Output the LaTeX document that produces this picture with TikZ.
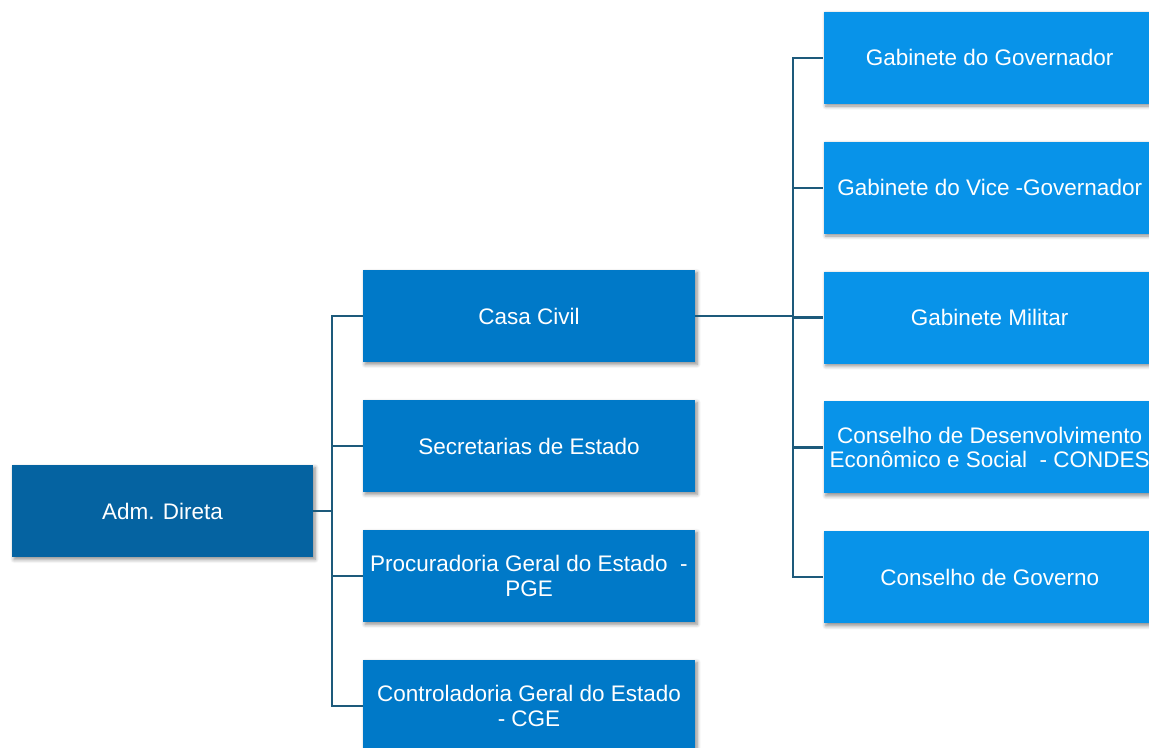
\documentclass[tikz,border=0pt]{standalone}
\usepackage{fontspec}
\setmainfont{Liberation Sans}
\usetikzlibrary{positioning,shadows.blur}
\definecolor{admblue}{HTML}{0563A1}
\definecolor{unitblue}{HTML}{0079C8}
\definecolor{subblue}{HTML}{0893E9}
\definecolor{linkblue}{HTML}{1D5A7B}

\begin{document}
\begin{tikzpicture}[font=\fontsize{12.8}{13.8}\selectfont, node distance=7.45mm and 25.6mm,
  box/.style={rectangle, text=white, minimum width=66.4mm, minimum height=18.4mm, align=center, inner sep=1pt,
    blur shadow={shadow xshift=1.2pt, shadow yshift=-1.4pt, shadow blur steps=6, shadow opacity=45}},
  root/.style={box, fill=admblue, minimum width=60.2mm},
  unit/.style={box, fill=unitblue},
  sub/.style={box, fill=subblue},
  link/.style={draw=linkblue, line width=1.2pt}]
\useasboundingbox (0,0) rectangle (22.98,-14.94);
\clip (0,0) rectangle (22.98,-14.94);
\node[root] (adm) at (3.25,-10.22) {Adm. Direta};
\node[unit] (casa) at (10.58,-6.32) {Casa Civil};
\node[unit, below=of casa] (sec) {Secretarias de Estado};
\node[unit, below=of sec] (pge) {Procuradoria Geral do Estado\ \ -\\PGE};
\node[unit, below=of pge] (cge) {Controladoria Geral do Estado\\- CGE};
\node[sub, right=of casa, yshift=-0.3mm] (gmil) {Gabinete Militar};
\node[sub, above=of gmil] (gvice) {Gabinete do Vice -Governador};
\node[sub, above=of gvice] (ggov) {Gabinete do Governador};
\node[sub, below=of gmil] (condes) {Conselho de Desenvolvimento\\Econômico e Social\ \ - CONDES};
\node[sub, below=of condes] (cgov) {Conselho de Governo};
\draw[link] (adm.east) -- ++(3.8mm,0) |- (casa.west); \draw[link] (adm.east) -- ++(3.8mm,0) |- (sec.west);
\draw[link] (adm.east) -- ++(3.8mm,0) |- (pge.west); \draw[link] (adm.east) -- ++(3.8mm,0) |- (cge.west);
\draw[link] (casa.east) -- ++(19.6mm,0) |- (ggov.west); \draw[link] (casa.east) -- ++(19.6mm,0) |- (gvice.west);
\draw[link] (casa.east) -- ++(19.6mm,0) |- (gmil.west); \draw[link] (casa.east) -- ++(19.6mm,0) |- (condes.west);
\draw[link] (casa.east) -- ++(19.6mm,0) |- (cgov.west);
\end{tikzpicture}
\end{document}
